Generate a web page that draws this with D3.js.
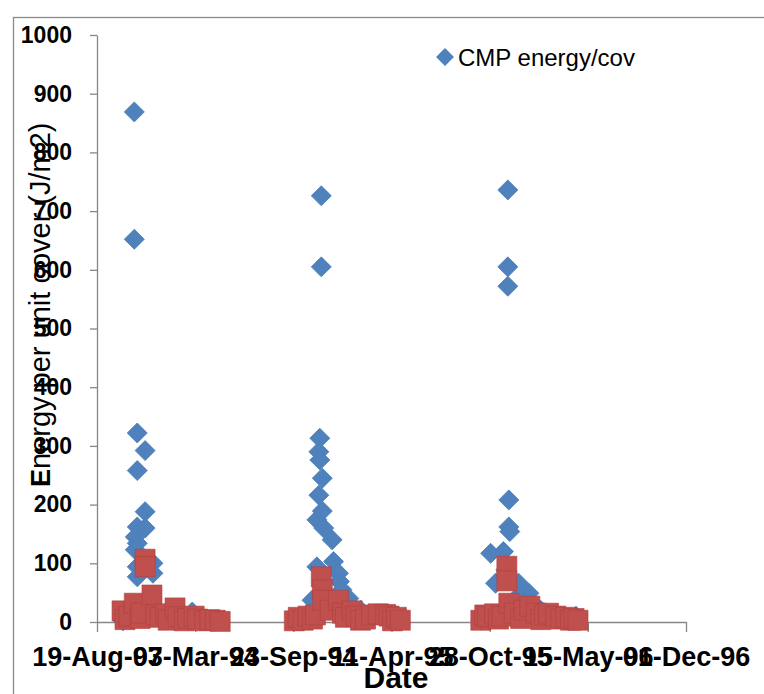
<!DOCTYPE html>
<meta charset="utf-8">
<script src="https://d3js.org/d3.v7.min.js"></script>
<style>
  body { margin: 0; background: #fff; }
  text { font-family: "Liberation Sans", Arial, sans-serif; }
</style>
<body>
<div id="visual"></div>
<script>
// dates are Excel day serials (as in the source sheet), values in J/m2

// CMP energy/cov (blue diamonds)
var cmpDates = [34276, 34276, 34282, 34298, 34282, 34298, 34282, 34298, 34278, 34282,
                34278, 34314, 34282, 34314, 34282, 34253, 34394, 34262, 34305, 34330,
                34350, 34370, 34410, 34430,
                34657, 34657, 34654, 34652, 34654, 34659, 34652, 34659, 34648, 34662,
                34679, 34682, 34648, 34692, 34694, 34699, 34638, 34713, 34737, 34767,
                34812, 34614,
                35037, 35037, 35037, 35039, 35039, 35041, 35028, 35002, 35033, 35012,
                35059, 35080, 35057, 35104, 35145, 35176, 34982];
var cmpValues = [869, 652, 322, 292, 258, 188, 162, 160, 145, 134,
                 123, 100, 94, 83, 77, 2, 17, 8, 30, 12,
                 6, 4, 3, 2,
                 726, 605, 313, 290, 276, 245, 216, 189, 174, 160,
                 140, 103, 94, 83, 69, 55, 37, 40, 20, 12,
                 10, 3,
                 736, 605, 572, 208, 162, 154, 120, 117, 89, 66,
                 66, 49, 43, 20, 10, 10, 3];

// second series (red squares)
var otherDates = [34251, 34257, 34265, 34276, 34288, 34290, 34298, 34298, 34312, 34320,
                  34329, 34340, 34345, 34359, 34365, 34378, 34385, 34398, 34405, 34420,
                  34430, 34441, 34451,
                  34602, 34610, 34620, 34630, 34639, 34645, 34657, 34659, 34660, 34675,
                  34692, 34700, 34706, 34720, 34728, 34737, 34747, 34760, 34773, 34788,
                  34795, 34802, 34810, 34818,
                  34982, 34990, 34996, 35010, 35018, 35025, 35035, 35035, 35039, 35050,
                  35063, 35070, 35082, 35095, 35104, 35112, 35120, 35135, 35145, 35155,
                  35165, 35172, 35180];
var otherValues = [19, 4, 10, 32, 6, 15, 107, 94, 46, 12,
                   8, 14, 3, 24, 9, 2, 6, 10, 5, 2,
                   4, 3, 1,
                   2, 8, 3, 10, 5, 12, 77, 55, 37, 20,
                   37, 15, 8, 19, 10, 3, 5, 12, 14, 13,
                   10, 2, 8, 3,
                   3, 12, 9, 14, 5, 10, 95, 70, 32, 15,
                   6, 20, 27, 15, 4, 12, 15, 10, 5, 8,
                   3, 6, 3];

var xTicks = [34200, 34400, 34600, 34800, 35000, 35200, 35400];
var yTicks = [0, 100, 200, 300, 400, 500, 600, 700, 800, 900, 1000];

var W = 764, H = 694;
var margin = {top: 35, left: 97, right: 78, bottom: 72};

function serialToDate(s) {
  return new Date(1899, 11, 30 + s);
}

var svg = d3.select("#visual")
  .append("svg")
    .attr("width", W)
    .attr("height", H);

// chart area border (runs off the picture on the right and bottom)
svg.append("rect")
  .attr("x", 13.5).attr("y", 17.5)
  .attr("width", 900).attr("height", 900)
  .attr("fill", "none")
  .attr("stroke", "#898989")
  .attr("stroke-width", 1.3);

var x = d3.scaleTime()
  .domain([serialToDate(xTicks[0]), serialToDate(xTicks[xTicks.length - 1])])
  .range([margin.left, W - margin.right]);

var y = d3.scaleLinear()
  .domain([0, 1000])
  .range([H - margin.bottom, margin.top]);

// Y axis
var yAxis = svg.append("g")
  .attr("transform", "translate(" + margin.left + ",0)")
  .call(d3.axisLeft(y).tickValues(yTicks).tickFormat(d3.format("d"))
    .tickSize(7).tickSizeOuter(0).tickPadding(18));
yAxis.selectAll("text")
  .style("font-size", "23px").style("font-weight", "bold").attr("fill", "#000");

// X axis
var xAxis = svg.append("g")
  .attr("transform", "translate(0," + (H - margin.bottom) + ")")
  .call(d3.axisBottom(x)
    .tickValues(xTicks.map(serialToDate))
    .tickFormat(d3.timeFormat("%d-%b-%y"))
    .tickSize(10).tickSizeOuter(0).tickPadding(15));
xAxis.selectAll("text")
  .style("font-size", "27px").style("font-weight", "bold").attr("fill", "#000");

svg.selectAll(".domain, .tick line")
  .attr("stroke", "#868686").attr("stroke-width", 1.3);

// blue diamonds
var diamond = d3.symbol().type(d3.symbolSquare).size(200);
svg.append("g")
  .selectAll("path")
  .data(cmpDates.map(function(d, i) { return {date: d, value: cmpValues[i]}; }))
  .enter().append("path")
    .attr("d", diamond)
    .attr("transform", function(d) {
      return "translate(" + x(serialToDate(d.date)) + "," + y(d.value) + ") rotate(45)";
    })
    .attr("fill", "#4F81BD")
    .attr("stroke", "#4A7EBB")
    .attr("stroke-width", 0.8);

// red squares
var square = d3.symbol().type(d3.symbolSquare).size(400);
svg.append("g")
  .selectAll("path")
  .data(otherDates.map(function(d, i) { return {date: d, value: otherValues[i]}; }))
  .enter().append("path")
    .attr("d", square)
    .attr("transform", function(d) {
      return "translate(" + x(serialToDate(d.date)) + "," + y(d.value) + ")";
    })
    .attr("fill", "#C0504D")
    .attr("stroke", "#B0403D")
    .attr("stroke-opacity", 0.6)
    .attr("stroke-width", 1);

// axis titles
svg.append("text")
  .attr("transform", "translate(50,487) rotate(-90)")
  .attr("fill", "#000")
  .call(function(t) {
    t.append("tspan").style("font-size", "27px").style("font-weight", "bold").text("E");
    t.append("tspan").style("font-size", "29px").text("nergy per unit cover (J/m2)");
  });

svg.append("text")
  .attr("x", 396).attr("y", 688)
  .attr("text-anchor", "middle")
  .style("font-size", "30px").style("font-weight", "bold")
  .attr("fill", "#000")
  .text("Date");

// legend
var legend = svg.append("g").attr("transform", "translate(445,57)");
legend.append("path")
  .attr("d", d3.symbol().type(d3.symbolSquare).size(160))
  .attr("transform", "rotate(45)")
  .attr("fill", "#4F81BD");
legend.append("text")
  .attr("x", 13).attr("y", 9)
  .style("font-size", "24px")
  .attr("fill", "#000")
  .text("CMP energy/cov");
</script>
</body>
